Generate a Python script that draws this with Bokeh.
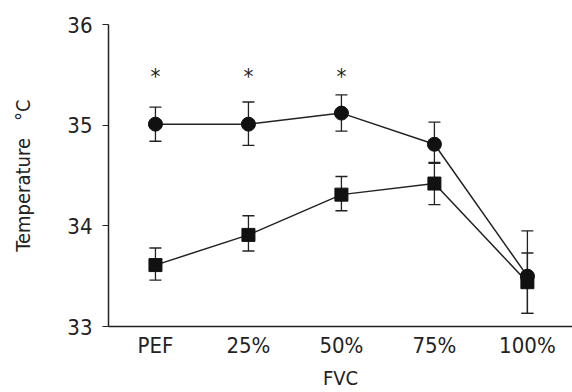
from bokeh.plotting import figure
from bokeh.models import ColumnDataSource, FixedTicker, Whisker, TeeHead, Range1d
from bokeh.core.properties import value
from bokeh.embed import file_html
from bokeh.resources import INLINE

categories = ["PEF", "25%", "50%", "75%", "100%"]
circle_mean = [35.01, 35.01, 35.12, 34.81, 33.50]
circle_upper = [35.18, 35.23, 35.30, 35.03, 33.95]
circle_lower = [34.84, 34.80, 34.94, 34.62, 33.13]
square_mean = [33.61, 33.91, 34.31, 34.42, 33.44]
square_upper = [33.78, 34.10, 34.49, 34.63, 33.73]
square_lower = [33.46, 33.75, 34.15, 34.21, 33.13]
star_cats = ["PEF", "25%", "50%"]
star_y = [35.48, 35.48, 35.48]
y_ticks = [33, 34, 35, 36]

xs = list(range(len(categories)))
FONT = "'DejaVu Sans Condensed', 'Liberation Sans', sans-serif"
INK = "#222222"

p = figure(width=572, height=392, output_backend="svg", toolbar_location=None,
           x_range=Range1d(-0.505, 4.485), y_range=Range1d(33, 36),
           min_border_left=108, min_border_right=0, min_border_top=24, min_border_bottom=65)
p.outline_line_color = None
p.grid.grid_line_color = None
p.background_fill_color = "white"
p.border_fill_color = "white"

csrc = ColumnDataSource(dict(x=xs, y=circle_mean, upper=circle_upper, lower=circle_lower))
ssrc = ColumnDataSource(dict(x=xs, y=square_mean, upper=square_upper, lower=square_lower))

for src in (ssrc, csrc):
    w = Whisker(source=src, base="x", upper="upper", lower="lower", line_color=INK, line_width=1.3,
                upper_head=TeeHead(size=12, line_color=INK, line_width=1.3),
                lower_head=TeeHead(size=12, line_color=INK, line_width=1.3))
    p.add_layout(w)

p.line("x", "y", source=ssrc, line_color=INK, line_width=1.5)
p.line("x", "y", source=csrc, line_color=INK, line_width=1.5)
p.scatter("x", "y", source=ssrc, marker="square", size=13, fill_color="#111111", line_color="#111111")
p.scatter("x", "y", source=csrc, marker="circle", size=14, fill_color="#111111", line_color="#111111")

star_x = [categories.index(c) for c in star_cats]
p.text(x=star_x, y=star_y, text=["*"] * len(star_x), text_align="center", text_baseline="middle",
       text_font=value(FONT), text_font_size="22px", text_color=INK)

p.xaxis.ticker = FixedTicker(ticks=xs)
p.xaxis.major_label_overrides = {i: c for i, c in enumerate(categories)}
p.xaxis.minor_tick_line_color = None
p.xaxis.major_tick_out = 0
p.xaxis.major_tick_in = 0
p.xaxis.axis_label = "FVC"
p.yaxis.ticker = FixedTicker(ticks=y_ticks)
p.yaxis.minor_tick_line_color = None
p.yaxis.major_tick_in = 0
p.yaxis.major_tick_out = 6
p.yaxis.axis_label = "Temperature\u00a0\u00a0 \u00b0C"

for ax in (p.xaxis, p.yaxis):
    ax.axis_line_color = INK
    ax.axis_line_width = 1.5
    ax.major_label_text_font = FONT
    ax.major_label_text_font_size = "22px"
    ax.major_label_text_color = INK
    ax.axis_label_text_font = FONT
    ax.axis_label_text_font_size = "20px"
    ax.axis_label_text_font_style = "normal"
    ax.axis_label_text_color = INK

p.yaxis.major_tick_line_color = INK
p.xaxis.major_tick_line_color = None
p.xaxis.major_label_standoff = 6
p.xaxis.axis_label_standoff = 5
p.yaxis.major_label_standoff = 10
p.yaxis.axis_label_standoff = 29

open("out.html", "w").write(file_html(p, INLINE))
